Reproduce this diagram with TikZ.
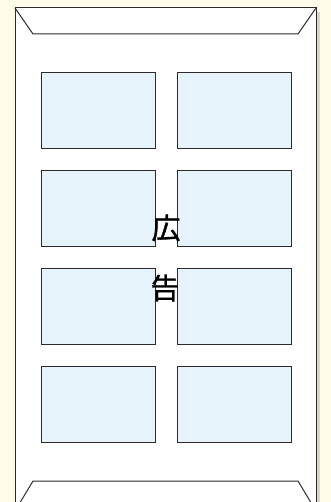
\documentclass[tikz,border=0pt]{standalone}
\usepackage{fontspec}
\newfontfamily\cjk[FakeBold=1.2]{Noto Sans CJK JP}
\definecolor{bgcream}{HTML}{FFFBEA}
\definecolor{panelblue}{HTML}{E6F3FB}
\definecolor{edge}{HTML}{2E2A2B}
\definecolor{shadowc}{HTML}{DCD7C2}
\begin{document}
\begin{tikzpicture}[x=1pt,y=-1pt,
  line/.style={draw=edge,line width=1pt},
  panel/.style={line,fill=panelblue,minimum width=114pt,minimum height=76pt,inner sep=0pt,anchor=north west},
  label/.style={font=\cjk\fontsize{29}{29}\selectfont,text=black,inner sep=0pt}]
\useasboundingbox (0,0) rectangle (331,502);
\clip (0,0) rectangle (331,502);
\fill[bgcream] (0,0) rectangle (331,502);
% shadow
\fill[shadowc] (316,12) rectangle (320,502);
% sheet
\draw[line,fill=white] (15,8) rectangle (316,520);
% top flap
\draw[line] (15,8) -- (33,34) -- (298,34) -- (316,8);
% bottom flap
\draw[line] (18,506) -- (33,481) -- (298,481) -- (313,506);
% panels
\foreach \r/\y in {1/72,2/170,3/268,4/366}{
  \node[panel] (L\r) at (41,\y) {};
  \node[panel] (R\r) at (177,\y) {};
}
\node[label] (ko) at (166,228) {広};
\node[label] (koku) at (165,288) {告};
\end{tikzpicture}
\end{document}
